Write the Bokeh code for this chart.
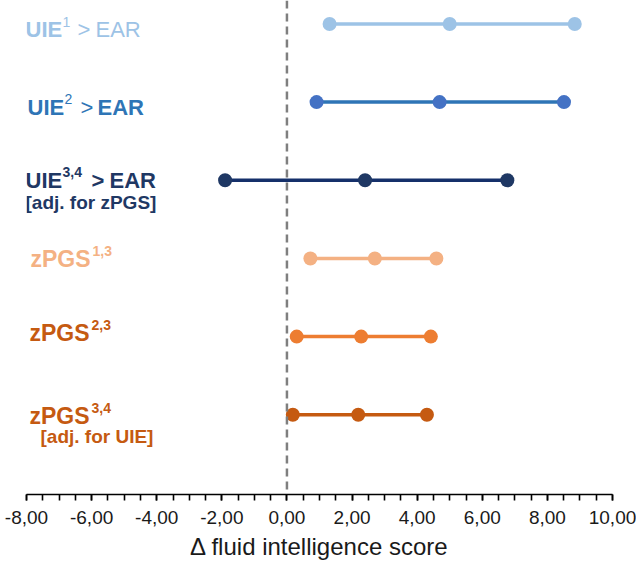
from bokeh.plotting import figure
from bokeh.models import Range1d, FixedTicker, Span
from bokeh.core.properties import value
from bokeh.embed import file_html
from bokeh.resources import INLINE

# ---- data ----
rows = ["UIE1", "UIE2", "UIE34", "zPGS13", "zPGS23", "zPGS34"]
row_pos = [6, 5, 4, 3, 2, 1]
lower = [1.31, 0.91, -1.90, 0.72, 0.30, 0.18]
estimate = [5.00, 4.69, 2.40, 2.70, 2.28, 2.19]
upper = [8.84, 8.51, 6.77, 4.59, 4.42, 4.30]

label_main = ["UIE", "UIE", "UIE", "zPGS", "zPGS", "zPGS"]
label_sup = ["1", "2", "3,4", "1,3", "2,3", "3,4"]
label_gt = [">", ">", ">", "", "", ""]
label_rest = ["EAR", "EAR", "EAR", "", "", ""]
label_note = ["", "", "[adj. for zPGS]", "", "", "[adj. for UIE]"]

tick_values = [-8, -6, -4, -2, 0, 2, 4, 6, 8, 10]
tick_labels = ["-8,00", "-6,00", "-4,00", "-2,00", "0,00", "2,00", "4,00", "6,00", "8,00", "10,00"]
x_title = "\u0394 fluid intelligence score"

# ---- styles ----
line_colors = ["#9DC3E6", "#2E75B6", "#15306A", "#F4B183", "#ED7D31", "#C55A11"]
dot_colors = ["#9DC3E6", "#4472C4", "#1F3864", "#F4B183", "#ED7D31", "#C55A11"]
text_colors = ["#9DC3E6", "#2E75B6", "#1F3864", "#F4B183", "#C55A11", "#C55A11"]
sup_style = ["normal", "normal", "bold", "bold", "bold", "bold"]
gt_style = ["normal", "normal", "bold", "bold", "bold", "bold"]
rest_style = ["normal", "bold", "bold", "bold", "bold", "bold"]
main_size = ["22px", "22px", "22px", "23px", "23px", "23px"]
# per-row offsets in px: (main_x, main_y, sup_x, gt_x, rest_x, note_x, note_y)
offs = [
    (-1, 6, 36, 51, 69, 0, 0),
    (1, 5, 38, 54, 71, 0, 0),
    (-1, 0, 36, 65, 83, -1, 22),
    (4, 1, 66, 0, 0, 0, 0),
    (3, -4, 65, 0, 0, 0, 0),
    (3, 1, 65, 0, 0, 14, 22),
]

FONT = value("Liberation Sans")

p = figure(width=636, height=564, output_backend="svg", toolbar_location=None,
           x_range=Range1d(-8, 10), y_range=Range1d(-0.02, 6.30),
           min_border_left=26, min_border_right=24, min_border_top=0, min_border_bottom=70)
p.outline_line_color = None
p.xgrid.visible = False
p.ygrid.visible = False
p.yaxis.visible = False
p.background_fill_color = "white"

xa = p.xaxis[0]
xa.ticker = FixedTicker(ticks=tick_values, minor_ticks=[v / 2 for v in range(-16, 21)])
xa.major_label_overrides = {v: s for v, s in zip(tick_values, tick_labels)}
xa.axis_line_color = "black"
xa.axis_line_width = 1.6
xa.major_tick_line_color = "black"
xa.minor_tick_line_color = "black"
xa.major_tick_line_width = 1.6
xa.minor_tick_line_width = 1.6
xa.major_tick_in = 0
xa.major_tick_out = 6
xa.minor_tick_in = 0
xa.minor_tick_out = 6
xa.major_label_text_font = "Liberation Sans"
xa.major_label_text_font_size = "19px"
xa.major_label_text_color = "#1a1a1a"
xa.major_label_standoff = 10
xa.axis_label = x_title
xa.axis_label_text_font = "Liberation Sans"
xa.axis_label_text_font_size = "24px"
xa.axis_label_text_font_style = "normal"
xa.axis_label_text_color = "#1a1a1a"
xa.axis_label_standoff = 6

p.add_layout(Span(location=0, dimension="height", line_color="#7F7F7F",
                  line_width=2.5, line_dash="8 5"))


def put(txt, y, xo, yo, style, size, color):
    p.text(x=[-8], y=[y], text=[txt], x_offset=xo, y_offset=yo,
           text_font=FONT, text_font_style=style, text_font_size=size,
           text_color=color, text_align="left", text_baseline="alphabetic")


for i in range(len(rows)):
    y = row_pos[i]
    p.line([lower[i], upper[i]], [y, y], line_color=line_colors[i], line_width=3.5)
    p.scatter([lower[i], estimate[i], upper[i]], [y, y, y], size=14,
              fill_color=dot_colors[i], line_color=None)

    mx, my, sx, gx, rx, nx, ny = offs[i]
    c = text_colors[i]
    put(label_main[i], y, mx, my, "bold", main_size[i], c)
    put(label_sup[i], y, sx, my - 8, sup_style[i], "14px", c)
    if label_gt[i]:
        put(label_gt[i], y, gx, my, gt_style[i], "22px", c)
        put(label_rest[i], y, rx, my, rest_style[i], "22px", c)
    if label_note[i]:
        put(label_note[i], y, nx, ny, "bold", "19px", c)

open("out.html", "w").write(file_html(p, INLINE))
